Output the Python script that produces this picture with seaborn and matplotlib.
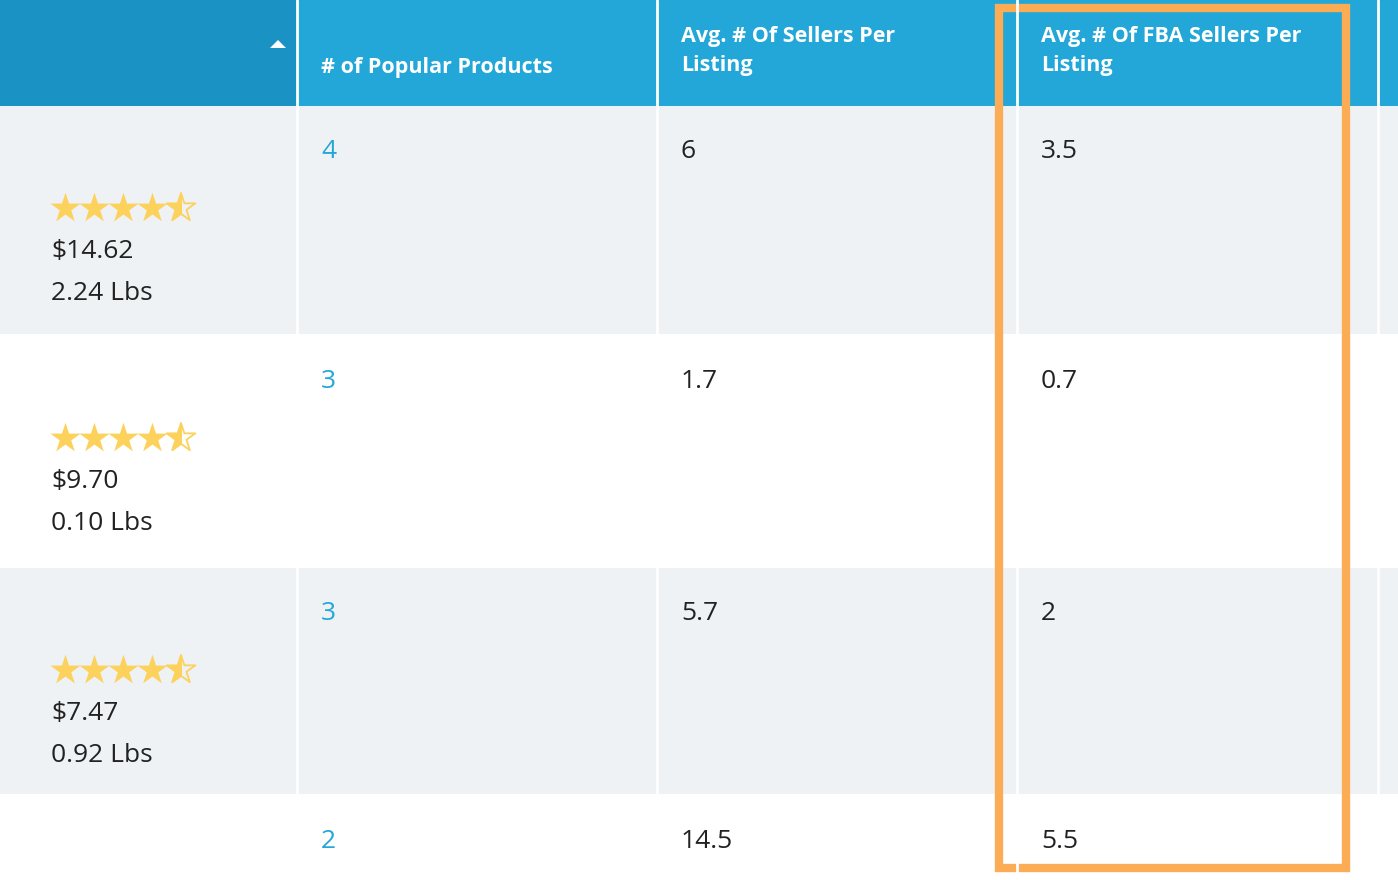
import matplotlib
matplotlib.use("Agg")
import matplotlib.pyplot as plt
import seaborn as sns
from matplotlib.patches import Rectangle, Polygon

sns.set_theme(style="white")
plt.rcParams["font.family"] = "Open Sans"

# table data
headers = ["", "# of Popular Products", "Avg. # Of Sellers Per\nListing", "Avg. # Of FBA Sellers Per\nListing"]
ratings = [4.5, 4.5, 4.5, None]
prices = ["$14.62", "$9.70", "$7.47", ""]
weights = ["2.24 Lbs", "0.10 Lbs", "0.92 Lbs", ""]
popular = ["4", "3", "3", "2"]
sellers = ["6", "1.7", "5.7", "14.5"]
fba_sellers = ["3.5", "0.7", "2", "5.5"]

col_x = [0, 298, 658, 1018, 1379, 1398]
row_y = [0, 106, 336, 568, 796, 1026]
row_bg = ["#eff2f5", "#ffffff", "#eff2f5", "#ffffff"]
HEAD_DARK, HEAD = "#1a92c3", "#22a7d8"
TXT, LINK = "#222222", "#22a7d8"
STAR = "#fcd25c"

fig = plt.figure(figsize=(13.98, 8.80), dpi=100)
ax = fig.add_axes([0, 0, 1, 1])
ax.set_xlim(0, 1398)
ax.set_ylim(880, 0)
ax.axis("off")

# header
for c in range(5):
    ax.add_patch(Rectangle((col_x[c], 0), col_x[c + 1] - col_x[c], row_y[1],
                           color=HEAD_DARK if c == 0 else HEAD, lw=0))
for c, h in enumerate(headers):
    if h:
        ax.text(col_x[c] + 23, 68 if "\n" not in h else 51, h, color="white",
                fontsize=15.5, fontweight="bold", va="center", linespacing=1.55)
ax.add_patch(Polygon([[270, 48], [286, 48], [278, 40]], color="white", lw=0))

# rows
for r in range(4):
    ax.add_patch(Rectangle((0, row_y[r + 1]), 1398, row_y[r + 2] - row_y[r + 1] - 2,
                           color=row_bg[r], lw=0))
    ty = row_y[r + 1] + 46
    ax.text(col_x[1] + 23, ty, popular[r], color=LINK, fontsize=19, va="center")
    ax.text(col_x[2] + 23, ty, sellers[r], color=TXT, fontsize=19, va="center")
    ax.text(col_x[3] + 23, ty, fba_sellers[r], color=TXT, fontsize=19, va="center")
    if ratings[r] is not None:
        sy = row_y[r + 1] + 102
        full = int(ratings[r])
        xs = [65 + 29 * i for i in range(5)]
        ax.scatter(xs[:full], [sy] * full, marker="*", s=520, color=STAR, lw=0)
        ax.scatter([xs[full]], [sy], marker="*", s=470, facecolor="none",
                   edgecolor=STAR, lw=1.3)
        half = ax.scatter([xs[full]], [sy], marker="*", s=520, color=STAR, lw=0)
        clip = Rectangle((xs[full] - 20, sy - 20), 20, 40, transform=ax.transData)
        half.set_clip_path(clip)
        ax.text(51, row_y[r + 1] + 145, prices[r], color=TXT, fontsize=19, va="center")
        ax.text(51, row_y[r + 1] + 187, weights[r], color=TXT, fontsize=19, va="center")

# vertical separators
for x in col_x[1:5]:
    ax.plot([x - 1, x - 1], [0, 880], color="white", lw=2)

# highlight box
ax.add_patch(Rectangle((999, 8), 347, 860, fill=False, edgecolor="#fbac55", lw=6))

fig.savefig("out.png", dpi=100)
